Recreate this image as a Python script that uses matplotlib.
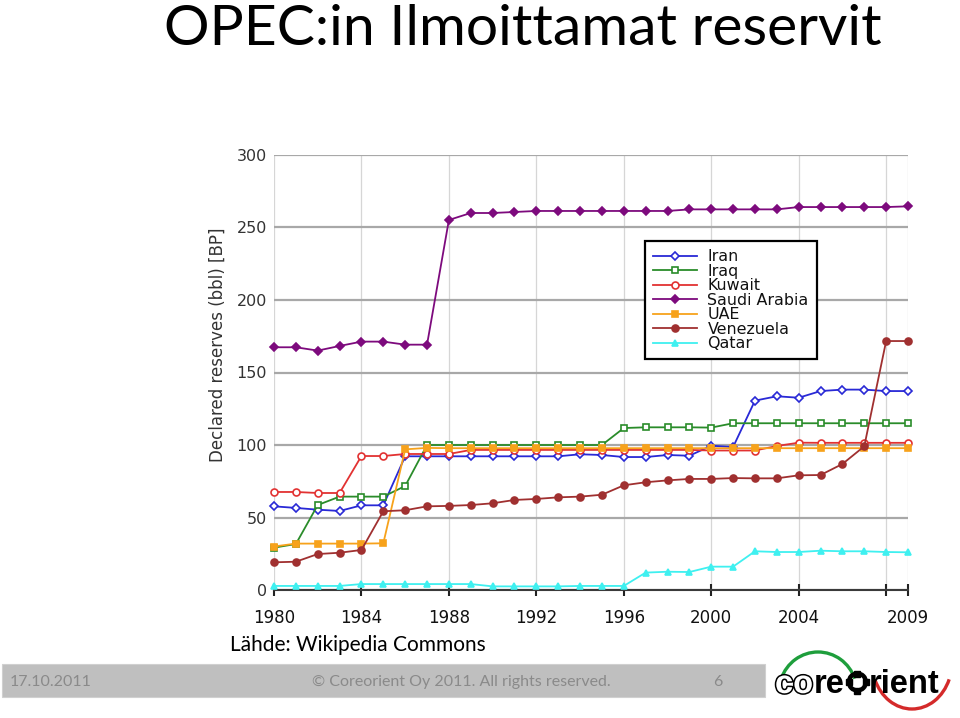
import matplotlib.pyplot as plt
import matplotlib.patheffects as pe
from matplotlib.font_manager import fontManager
from matplotlib.patches import Arc, Circle, Rectangle


YEARS = list(range(1980, 2010))

IRAN = [57.7, 56.6, 55.4, 54.5, 58.4, 58.4, 92.2, 92.2, 92.2, 92.2,
        92.2, 92.2, 92.2, 92.2, 93.6, 93.1, 91.7, 91.7, 93.1, 92.6,
        99.5, 98.6, 130.6, 133.6, 132.6, 137.2, 138.2, 138.2, 137.2, 137.2]
IRAQ = [29.2, 31.7, 58.6, 64.4, 64.4, 64.4, 71.7, 100.0, 100.0, 100.0,
        100.0, 100.0, 100.0, 100.0, 100.0, 100.0, 111.7, 112.2, 112.2, 112.2,
        112.0, 115.0, 115.0, 115.0, 115.0, 115.0, 115.0, 115.0, 115.0, 115.0]
KUWAIT = [67.6, 67.6, 66.9, 66.9, 92.4, 92.4, 93.8, 93.8, 93.8, 96.6,
          96.6, 96.6, 96.6, 96.6, 96.6, 96.6, 96.6, 96.6, 96.6, 96.6,
          96.2, 96.2, 96.2, 99.3, 101.6, 101.5, 101.5, 101.5, 101.5, 101.5]
SAUDI_ARABIA = [167.4, 167.4, 165.1, 168.3, 171.3, 171.3, 169.2, 169.2, 255.2, 260.0,
                260.0, 260.7, 261.4, 261.4, 261.4, 261.4, 261.4, 261.4, 261.4, 262.5,
                262.5, 262.5, 262.5, 262.5, 264.1, 264.1, 264.1, 264.1, 264.1, 264.6]
UAE = [30.0, 32.0, 32.0, 32.0, 32.0, 32.2, 97.0, 98.0, 97.8, 97.8,
       97.8, 97.8, 97.8, 97.8, 97.8, 97.8, 97.8, 97.8, 97.8, 97.8,
       97.8, 97.8, 97.8, 97.8, 97.8, 97.8, 97.8, 97.8, 97.8, 97.8]
VENEZUELA = [19.1, 19.5, 24.8, 25.7, 27.6, 54.3, 55.0, 57.7, 58.0, 58.6,
             59.8, 62.1, 62.8, 63.9, 64.4, 65.7, 72.2, 74.3, 75.6, 76.6,
             76.6, 77.2, 77.0, 77.0, 79.1, 79.3, 86.9, 99.1, 171.7, 171.7]
QATAR = [2.8, 2.8, 2.8, 2.8, 4.1, 4.1, 4.1, 4.1, 4.1, 4.1,
         2.5, 2.5, 2.5, 2.5, 2.8, 2.8, 2.8, 12.0, 12.6, 12.4,
         16.1, 16.1, 26.7, 26.2, 26.2, 27.1, 26.7, 26.7, 26.2, 26.0]

X_TICKS = [1980, 1984, 1988, 1992, 1996, 2000, 2004, 2008, 2009]
X_TICK_LABELS = ["1980", "1984", "1988", "1992", "1996", "2000", "2004", "", "2009"]
Y_TICKS = [0, 50, 100, 150, 200, 250, 300]

SERIES = [
    ("Iran", IRAN, "#2929d6", "D", "white", 4.5),
    ("Iraq", IRAQ, "#2a8c2a", "s", "white", 4.5),
    ("Kuwait", KUWAIT, "#e23232", "o", "white", 5),
    ("Saudi Arabia", SAUDI_ARABIA, "#7d0a7d", "D", "#7d0a7d", 4.5),
    ("UAE", UAE, "#f7a21b", "s", "#f7a21b", 4.5),
    ("Venezuela", VENEZUELA, "#a03030", "o", "#a03030", 5),
    ("Qatar", QATAR, "#3ff0f0", "^", "#3ff0f0", 5),
]

W, H = 960, 718
fig = plt.figure(figsize=(W / 100, H / 100), dpi=100)
fig.patch.set_facecolor("white")

# chart area
ax = fig.add_axes([274 / W, 1 - 590 / H, 634 / W, 435 / H])
for name, values, color, marker, face, size in SERIES:
    ax.plot(YEARS, values, color=color, marker=marker, markerfacecolor=face,
            markeredgecolor=color, markersize=size, markeredgewidth=1.2,
            linewidth=1.3, label=name, clip_on=False, zorder=3)

ax.set_xlim(1980, 2009)
ax.set_ylim(0, 300)
ax.set_xticks(X_TICKS)
ax.set_xticklabels(X_TICK_LABELS)
ax.set_yticks(Y_TICKS)
for s in ["top", "right", "left"]:
    ax.spines[s].set_visible(False)
ax.spines["bottom"].set_color("#3a3a3a")
ax.spines["bottom"].set_linewidth(1.5)
ax.spines["bottom"].set_zorder(2.5)
ax.tick_params(axis="x", direction="inout", length=9, width=1.5, color="#222222",
               labelsize=12, labelcolor="#111111", pad=9)
ax.tick_params(axis="y", length=0, labelsize=11.5, labelcolor="#333333", pad=5)
ax.yaxis.grid(True, color="#a8a8a8", linewidth=1.6, zorder=0)
ax.xaxis.grid(True, color="#d6d6d6", linewidth=0.9, zorder=0)
ax.set_axisbelow(True)
ax.set_ylabel("Declared reserves (bbl) [BP]", fontsize=12, color="#333333")
ax.yaxis.set_label_coords(-0.075, 0.563)

leg = ax.legend(loc="upper left", bbox_to_anchor=(0.585, 0.802), borderaxespad=0,
                fontsize=11.4, labelspacing=-0.03, handlelength=2.8, handletextpad=0.65,
                borderpad=0.5, fancybox=False, framealpha=1, edgecolor="black")
leg.get_frame().set_linewidth(1.6)
for t in leg.get_texts():
    t.set_color("#111111")

# slide decorations in pixel coordinates
deco = fig.add_axes([0, 0, 1, 1], zorder=-1)
deco.set_xlim(0, W)
deco.set_ylim(H, 0)
deco.axis("off")

slide_font = ["Lato", "DejaVu Sans"]
deco.text(523, 45, "OPEC:in Ilmoittamat reservit", fontsize=41, family=slide_font,
          ha="center", va="baseline", color="black")
deco.text(230, 651, "Lähde: Wikipedia Commons", fontsize=15, family=slide_font,
          ha="left", va="baseline", color="black")

deco.add_patch(Rectangle((2, 664), 763, 33, facecolor="#bfbfbf", edgecolor="#d0d0d0", linewidth=0.8))
deco.text(10, 682, "17.10.2011", fontsize=11.5, family=slide_font, color="#8a8a8a",
          ha="left", va="center")
deco.text(461, 682, "© Coreorient Oy 2011. All rights reserved.", fontsize=11.5,
          family=slide_font, color="#8a8a8a", ha="center", va="center")
deco.text(718, 682, "6", fontsize=11.5, family=slide_font, color="#8a8a8a",
          ha="center", va="center")

# logo
installed = {f.name for f in fontManager.ttflist}
logo_family = "Liberation Sans Narrow" if "Liberation Sans Narrow" in installed else "Liberation Sans"
logo_size = 28 if logo_family == "Liberation Sans Narrow" else 23.5
deco.add_patch(Arc((818, 692), 78, 80, theta1=200, theta2=340, color="#1e9e3c", lw=2.4))
deco.add_patch(Arc((912, 662), 80, 94, theta1=25, theta2=155, color="#d42a2a", lw=2.4))

renderer = fig.canvas.get_renderer()
inv = deco.transData.inverted()


def place(x, text, **kw):
    t = deco.text(x, 693, text, fontsize=logo_size, family=logo_family, fontweight="bold",
                  ha="left", va="baseline", **kw)
    bb = t.get_window_extent(renderer)
    return inv.transform((bb.x1, bb.y1))[0]


x = place(775, "co", color="white",
          path_effects=[pe.withStroke(linewidth=2.2, foreground="black")])
x = place(x + 1, "re", color="black")
r = 8.5
cx = x + r + 4
deco.add_patch(Circle((cx, 682), r, facecolor="none", edgecolor="black", lw=3.2))
deco.plot([cx, cx, cx - r, cx + r], [682 - r, 682 + r, 682, 682],
          linestyle="none", marker="s", markersize=3.8, color="black")
place(cx + r + 3, "rient", color="black")

fig.savefig("out.png", dpi=100)
